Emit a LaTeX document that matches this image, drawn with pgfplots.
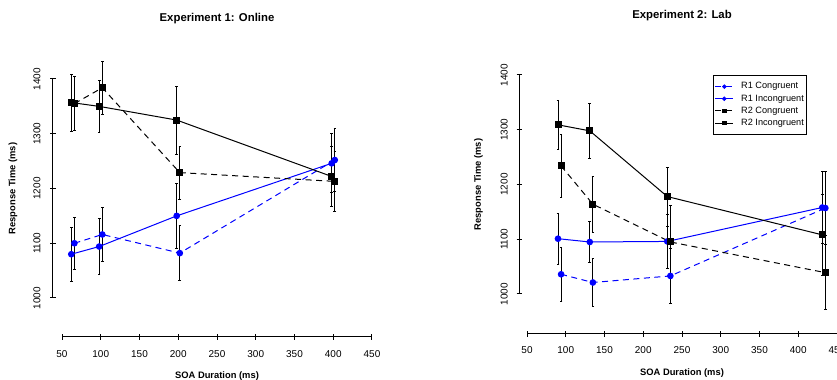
\documentclass[border=0pt]{standalone}
\usepackage{pgfplots}
\pgfplotsset{compat=1.18}
\usepackage{fontspec}
\setmainfont{Liberation Sans}
\definecolor{rblue}{RGB}{0,0,255}

\pgfplotsset{
  common/.style={
    scale only axis, clip=false,
    hide obscured x ticks=false, hide obscured y ticks=false,
    tick align=outside, major tick length=5bp,
    tick style={line width=1bp, black},
    scaled ticks=false,
    /pgf/number format/1000 sep={},
    /pgf/number format/assume math mode=true,
    ticklabel style={font=\fontsize{10}{12}\selectfont},
    every axis title shift=0pt,
    title style={font=\bfseries\fontsize{11.4}{13}\selectfont, anchor=base, yshift=0pt},
    label style={font=\bfseries\fontsize{9.4}{11}\selectfont},
  },
  dataaxis/.style={
    scale only axis, width=310bp, height=219bp,
    xmin=50, xmax=450, ymin=1000, ymax=1400,
    clip=false, hide axis,
  },
  xdeco/.style={common,
    width=310bp, height=1bp, xmin=50, xmax=450, ymin=0, ymax=1,
    axis x line=bottom, axis y line=none, ytick=\empty,
    every outer x axis line/.append style={-, line width=1bp, black},
    xtick={50,100,...,450},
    xticklabel style={anchor=north, inner sep=0pt},
    xlabel={SOA Duration (ms)},
  },
  ydeco/.style={common,
    width=1bp, height=219bp, xmin=0, xmax=1, ymin=1000, ymax=1400,
    axis y line=left, axis x line=none, xtick=\empty,
    every outer y axis line/.append style={-, line width=1bp, black},
    ytick={1000,1100,...,1400},
    yticklabel style={rotate=90, anchor=base, inner sep=0pt},
    ylabel={Response Time (ms)},
  },
  ebar/.style={
    /pgfplots/error bars/y dir=both, /pgfplots/error bars/y explicit,
    /pgfplots/error bars/error bar style={black, solid, line width=0.8bp},
    /pgfplots/error bars/error mark options={rotate=90, black, solid, mark size=1.3bp, line width=0.8bp},
  },
  rdash/.style={dash pattern=on 6bp off 4.5bp},
  r1/.style={rblue, line width=1bp, mark=*, mark size=2.8bp, mark options={solid, fill=rblue}, ebar},
  r2/.style={black, line width=1bp, mark=square*, mark size=3bp, mark options={solid, fill=black}, ebar},
}

\begin{document}
\begin{tikzpicture}
% ================= Experiment 1: Online =================
% x axis (R style, detached)
\begin{axis}[xdeco, at={(62bp,43bp)}, anchor=south west,
  xticklabel shift=11.3bp,
  xlabel style={at={(axis description cs:0.5,0)}, anchor=base, yshift=-41.3bp},
  title={Experiment 1: Online},
  title style={at={(axis description cs:0.5,315)}},
]
\end{axis}
% y axis (R style, detached)
\begin{axis}[ydeco, at={(53bp,82bp)}, anchor=south west,
  yticklabel shift=10bp,
  ylabel style={at={(axis description cs:-37.7,0.5)}, anchor=base},
]
\end{axis}
% data
\begin{axis}[dataaxis, at={(62bp,82bp)}, anchor=south west]
\addplot[r1, rdash] coordinates {(66,1100) +- (0,47) (102,1116) +- (0,50) (202,1082) +- (0,50) (402,1252) +- (0,57)};
\addplot[r1] coordinates {(62,1080) +- (0,49) (98,1094) +- (0,51) (198,1150) +- (0,59) (398,1246) +- (0,54)};
\addplot[r2, rdash] coordinates {(66,1355) +- (0,49) (102,1384) +- (0,48) (202,1229) +- (0,48) (402,1213) +- (0,55)};
\addplot[r2] coordinates {(62,1357) +- (0,52) (98,1350) +- (0,48) (198,1325) +- (0,62) (398,1222) +- (0,54)};
\end{axis}

% ================= Experiment 2: Lab =================
\begin{axis}[xdeco, at={(527bp,46bp)}, anchor=south west,
  xticklabel shift=10bp,
  xlabel style={at={(axis description cs:0.5,0)}, anchor=base, yshift=-41bp},
  title={Experiment 2: Lab},
  title style={at={(axis description cs:0.5,315.7)}},
]
\end{axis}
\begin{axis}[ydeco, at={(519bp,86bp)}, anchor=south west,
  yticklabel shift=9bp,
  ylabel style={at={(axis description cs:-38,0.5)}, anchor=base},
]
\end{axis}
\begin{axis}[dataaxis, at={(527bp,86bp)}, anchor=south west,
  legend style={at={(rel axis cs:0.6,1)}, anchor=north west, draw=black, line width=0.8bp,
    inner xsep=1.5bp, inner ysep=5.5bp, row sep=0.6bp, column sep=6bp,
    font=\fontsize{9.2}{10}\selectfont,
    nodes={inner sep=1.5bp, text height=6.6bp, text depth=1.9bp}},
  legend cell align=left,
  legend image code/.code={\draw[mark repeat=2, mark phase=2, #1] plot coordinates {(0bp,0bp) (9bp,0bp) (18bp,0bp)};},
  legend image post style={mark size=1.8bp, line width=0.8bp},
]
\addplot[r1, rdash] coordinates {(94,1036) +- (0,50) (135,1021) +- (0,44) (235,1033) +- (0,50) (435,1157) +- (0,67)};
\addlegendentry{R1 Congruent}
\addplot[r1] coordinates {(90,1101) +- (0,47) (131,1095) +- (0,37) (231,1096) +- (0,50) (431,1158) +- (0,66)};
\addlegendentry{R1 Incongruent}
\addplot[r2, rdash] coordinates {(94,1234) +- (0,58) (135,1164) +- (0,51) (235,1095) +- (0,66) (435,1039) +- (0,68)};
\addlegendentry{R2 Congruent}
\addplot[r2] coordinates {(90,1309) +- (0,45) (131,1298) +- (0,50) (231,1178) +- (0,54) (431,1108) +- (0,74)};
\addlegendentry{R2 Incongruent}
\end{axis}
\pgfresetboundingbox
\useasboundingbox (0,0) rectangle (837bp,380bp);
\end{tikzpicture}
\end{document}
